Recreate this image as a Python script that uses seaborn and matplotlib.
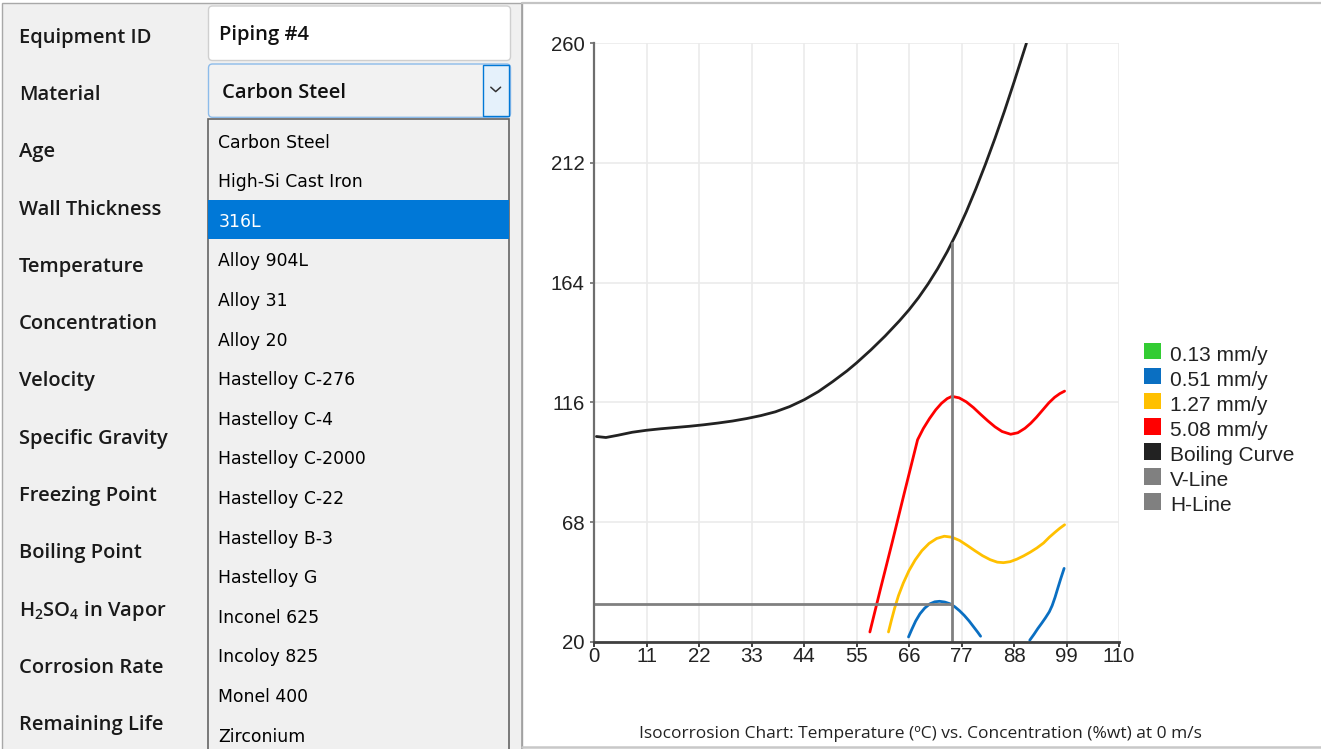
import matplotlib
matplotlib.use("Agg")
import matplotlib.pyplot as plt
from matplotlib.patches import Rectangle, FancyBboxPatch
from matplotlib import font_manager
import seaborn as sns
import pandas as pd

# ---------------- data ----------------
conc_ticks = [0, 11, 22, 33, 44, 55, 66, 77, 88, 99, 110]
temp_ticks = [20, 68, 116, 164, 212, 260]

boiling_x = [0.5, 2.5, 5, 8, 11, 14, 17, 20, 23, 26, 29, 32, 35, 38, 41, 44, 47, 50, 53, 55,
             58, 61, 64, 66, 68, 70, 72, 74, 76, 78, 80, 82, 84, 86, 88, 90, 90.6]
boiling_y = [102.3, 101.9, 102.8, 104.0, 104.8, 105.4, 105.9, 106.4, 107.0, 107.7, 108.5, 109.5,
             110.7, 112.2, 114.3, 117.0, 120.3, 124.3, 128.6, 131.8, 137.0, 142.6, 148.7, 153.1,
             158.0, 163.5, 169.6, 176.4, 184.0, 192.4, 201.6, 211.4, 221.8, 232.8, 244.4, 256.4, 260.0]

red_x = [57.8, 60, 62.5, 65, 67.8, 69, 70.3, 71.6, 72.8, 74, 75, 76.5, 78, 79.5, 81, 82.5, 84,
         85.5, 87.3, 88.8, 90.3, 91.5, 92.7, 94, 95.3, 96.5, 97.6, 98.6]
red_y = [23.9, 41, 60, 79.5, 101, 105.5, 109.5, 113, 115.6, 117.5, 118.4, 117.8, 116.2, 113.9,
         111.2, 108.6, 106.2, 104.3, 103.2, 103.8, 105.6, 107.6, 110, 112.9, 115.8, 118, 119.5, 120.5]

yellow_x = [61.7, 62.3, 63, 63.8, 64.8, 66, 67.3, 68.7, 70.2, 71.8, 73.4, 75, 76.6, 78.2, 79.8,
            81.4, 83, 84.5, 85.8, 87.2, 88.6, 90, 91.4, 92.8, 94.2, 95.4, 96.6, 97.6, 98.6]
yellow_y = [23.9, 28.5, 33.5, 38.5, 43.5, 48.5, 52.8, 56.5, 59.4, 61.4, 62.3, 61.9, 60.6, 58.6,
            56.5, 54.5, 52.9, 51.9, 51.7, 52.1, 53.1, 54.4, 55.9, 57.6, 59.6, 61.9, 63.9, 65.5, 66.9]

blue1_x = [65.9, 66.6, 67.4, 68.3, 69.3, 70.4, 71.4, 72.4, 73.5, 74.6, 75.6, 76.6, 77.6, 78.6,
           79.6, 80.4, 81]
blue1_y = [21.9, 25, 28.3, 31.2, 33.5, 35.2, 36, 36.2, 35.9, 35.2, 34, 32.4, 30.5, 28.3, 25.8,
           23.8, 22.2]
blue2_x = [91.3, 92.2, 93, 93.8, 94.6, 95.4, 96, 96.6, 97.2, 97.8, 98.5]
blue2_y = [20.6, 23, 25.3, 27.4, 29.6, 32, 34.5, 37.8, 41.6, 45.3, 49.4]

vline_x = [75, 75]
vline_y = [20, 180]
hline_x = [0, 75]
hline_y = [35, 35]

legend_labels = ["0.13 mm/y", "0.51 mm/y", "1.27 mm/y", "5.08 mm/y", "Boiling Curve", "V-Line", "H-Line"]
legend_colors = ["#33cc33", "#0a6fc2", "#ffc000", "#ff0000", "#222222", "#808080", "#808080"]

form_labels = ["Equipment ID", "Material", "Age", "Wall Thickness", "Temperature",
               "Concentration", "Velocity", "Specific Gravity", "Freezing Point",
               "Boiling Point", r"H$_\mathregular{2}$SO$_\mathregular{4}$ in Vapor",
               "Corrosion Rate", "Remaining Life"]
equipment_id = "Piping #4"
material_value = "Carbon Steel"
materials = ["Carbon Steel", "High-Si Cast Iron", "316L", "Alloy 904L", "Alloy 31",
             "Alloy 20", "Hastelloy C-276", "Hastelloy C-4", "Hastelloy C-2000",
             "Hastelloy C-22", "Hastelloy B-3", "Hastelloy G", "Inconel 625",
             "Incoloy 825", "Monel 400", "Zirconium"]
selected_material = 2
caption = "Isocorrosion Chart: Temperature (ºC) vs. Concentration (%wt) at 0 m/s"

# ---------------- style ----------------
sns.set_theme(style="white")
plt.rcParams['font.family'] = ['Liberation Sans', 'DejaVu Sans']
plt.rcParams['mathtext.fontset'] = 'custom'
plt.rcParams['mathtext.rm'] = 'Open Sans'

W, H = 1321, 749
fig = plt.figure(figsize=(W / 100, H / 100), dpi=100)
fig.patch.set_facecolor("white")
renderer = fig.canvas.get_renderer()

ui = fig.add_axes([0, 0, 1, 1], zorder=0)
ui.set_xlim(0, W)
ui.set_ylim(H, 0)
ui.axis("off")


def fit_size(s, target, family, weight="normal", base=12.0):
    t = fig.text(0, 0, s, fontsize=base, family=family, weight=weight)
    w = t.get_window_extent(renderer).width
    t.remove()
    return base * target / w

UI_FONT = ['Open Sans', 'DejaVu Sans']
LIST_FONT = ['DejaVu Sans']
installed = {f.name for f in font_manager.fontManager.ttflist}
TICK_FONT = ['Liberation Sans Narrow'] if 'Liberation Sans Narrow' in installed else ['Liberation Sans']

# left panel
ui.add_patch(Rectangle((2, 2.5), 519.5, 760, facecolor="#f0f0f0", edgecolor="#a8a8a8", lw=1.0))
ui.plot([521.5, 521.5], [2.5, 749], color="#a0a0a0", lw=1.2)
ui.plot([521.5, W], [3.3, 3.3], color="#c4c4c4", lw=1.6)
ui.plot([521.5, W], [746.8, 746.8], color="#c8c8c8", lw=1.8)

lab_size = fit_size("Specific Gravity", 148, UI_FONT, "semibold")
for i, lab in enumerate(form_labels):
    ui.text(19, 42.7 + 57.3 * i, lab, fontsize=lab_size, family=UI_FONT, weight="semibold",
            color="#1a1a1a", ha="left", va="baseline")

# equipment id text box
ui.add_patch(FancyBboxPatch((208.5, 6), 302, 54.5, boxstyle="round,pad=0,rounding_size=4",
                            facecolor="white", edgecolor="#cfcfcf", lw=1.0))
box_size = fit_size(material_value, 124, UI_FONT, "semibold")
ui.text(219, 40, equipment_id, fontsize=box_size, family=UI_FONT, weight="semibold",
        color="#111111", ha="left", va="baseline")

# material combo
ui.add_patch(FancyBboxPatch((208.5, 64), 302, 53.3, boxstyle="round,pad=0,rounding_size=4",
                            facecolor="#f2f2f2", edgecolor="#8cbbea", lw=1.0))
ui.add_patch(Rectangle((482.5, 65), 26.5, 51, facecolor="#e5f1fb", edgecolor="#0078d7", lw=1.0))
ui.plot([490.8, 495.7, 500.6], [87.2, 91.6, 87.2], color="#333333", lw=1.1)
ui.text(222.5, 98.3, material_value, fontsize=box_size, family=UI_FONT, weight="semibold",
        color="#111111", ha="left", va="baseline")

# dropdown list
ui.add_patch(Rectangle((207.7, 119), 301.6, 640, facecolor="#f0f0f0", edgecolor="#646464", lw=1.2))
ui.add_patch(Rectangle((208.4, 199.5), 300.2, 39, facecolor="#0078d7", edgecolor="none"))
list_size = fit_size("Hastelloy C-2000", 146.7, LIST_FONT)
for i, m in enumerate(materials):
    ui.text(218.3, 147.7 + 39.6 * i, m, fontsize=list_size, family=LIST_FONT,
            color="white" if i == selected_material else "#000000", ha="left", va="baseline")

# caption
cap_size = fit_size(caption, 560, UI_FONT)
ui.text(639, 738, caption, fontsize=cap_size, family=UI_FONT, color="#222222",
        ha="left", va="baseline")

# legend
for i, (lab, col) in enumerate(zip(legend_labels, legend_colors)):
    cy = 350.7 + 25.1 * i
    ui.add_patch(Rectangle((1144, cy - 8), 16.5, 16.5, facecolor=col, edgecolor="none"))
    ui.text(1170, cy + 10, lab, fontsize=15, family=['Liberation Sans'], color="#222222",
            ha="left", va="baseline")

# ---------------- chart ----------------
L, R, T, B = 594, 1119, 43.3, 641.7
ax = fig.add_axes([L / W, 1 - B / H, (R - L) / W, (B - T) / H], zorder=2)
ax.patch.set_alpha(0)

rows = []
def add(name, seg, xs, ys):
    for x, y in zip(xs, ys):
        rows.append({"series": name, "segment": seg, "conc": x, "temp": y})

add("Boiling Curve", "boil", boiling_x, boiling_y)
add("5.08 mm/y", "red", red_x, red_y)
add("1.27 mm/y", "yellow", yellow_x, yellow_y)
add("0.51 mm/y", "blue1", blue1_x, blue1_y)
add("0.51 mm/y", "blue2", blue2_x, blue2_y)
add("H-Line", "h", hline_x, hline_y)
add("V-Line", "v", vline_x, vline_y)
df = pd.DataFrame(rows)

palette = {lab: col for lab, col in zip(legend_labels, legend_colors)}
order = ["Boiling Curve", "5.08 mm/y", "1.27 mm/y", "0.51 mm/y", "H-Line", "V-Line"]
sns.lineplot(data=df, x="conc", y="temp", hue="series", hue_order=order, units="segment",
             estimator=None, sort=False, palette=palette, linewidth=2.0, legend=False, ax=ax)
for ln in ax.get_lines():
    ln.set_solid_joinstyle("round")
    ln.set_solid_capstyle("round")

ax.set_xlim(0, 110)
ax.set_ylim(20, 260)
ax.set_xticks(conc_ticks)
ax.set_yticks(temp_ticks)
ax.set_xlabel("")
ax.set_ylabel("")
ax.grid(True, color="#ebebeb", lw=1.2)
ax.set_axisbelow(True)
for s in ["top", "right"]:
    ax.spines[s].set_visible(False)
ax.spines["left"].set_color("#6e6e6e")
ax.spines["left"].set_linewidth(1.6)
ax.spines["bottom"].set_color("#404040")
ax.spines["bottom"].set_linewidth(2.0)

tick_size = fit_size("260", 34, TICK_FONT)
ax.tick_params(axis="x", direction="out", length=3.5, width=1.4, color="#404040",
               pad=0.5, labelsize=tick_size, labelcolor="#222222", bottom=True)
ax.tick_params(axis="y", direction="out", length=3, width=1.2, color="#6e6e6e",
               pad=4, labelsize=tick_size, labelcolor="#222222", left=True)
for lbl in ax.get_xticklabels() + ax.get_yticklabels():
    lbl.set_family(TICK_FONT)

fig.savefig("out.png", dpi=100)
